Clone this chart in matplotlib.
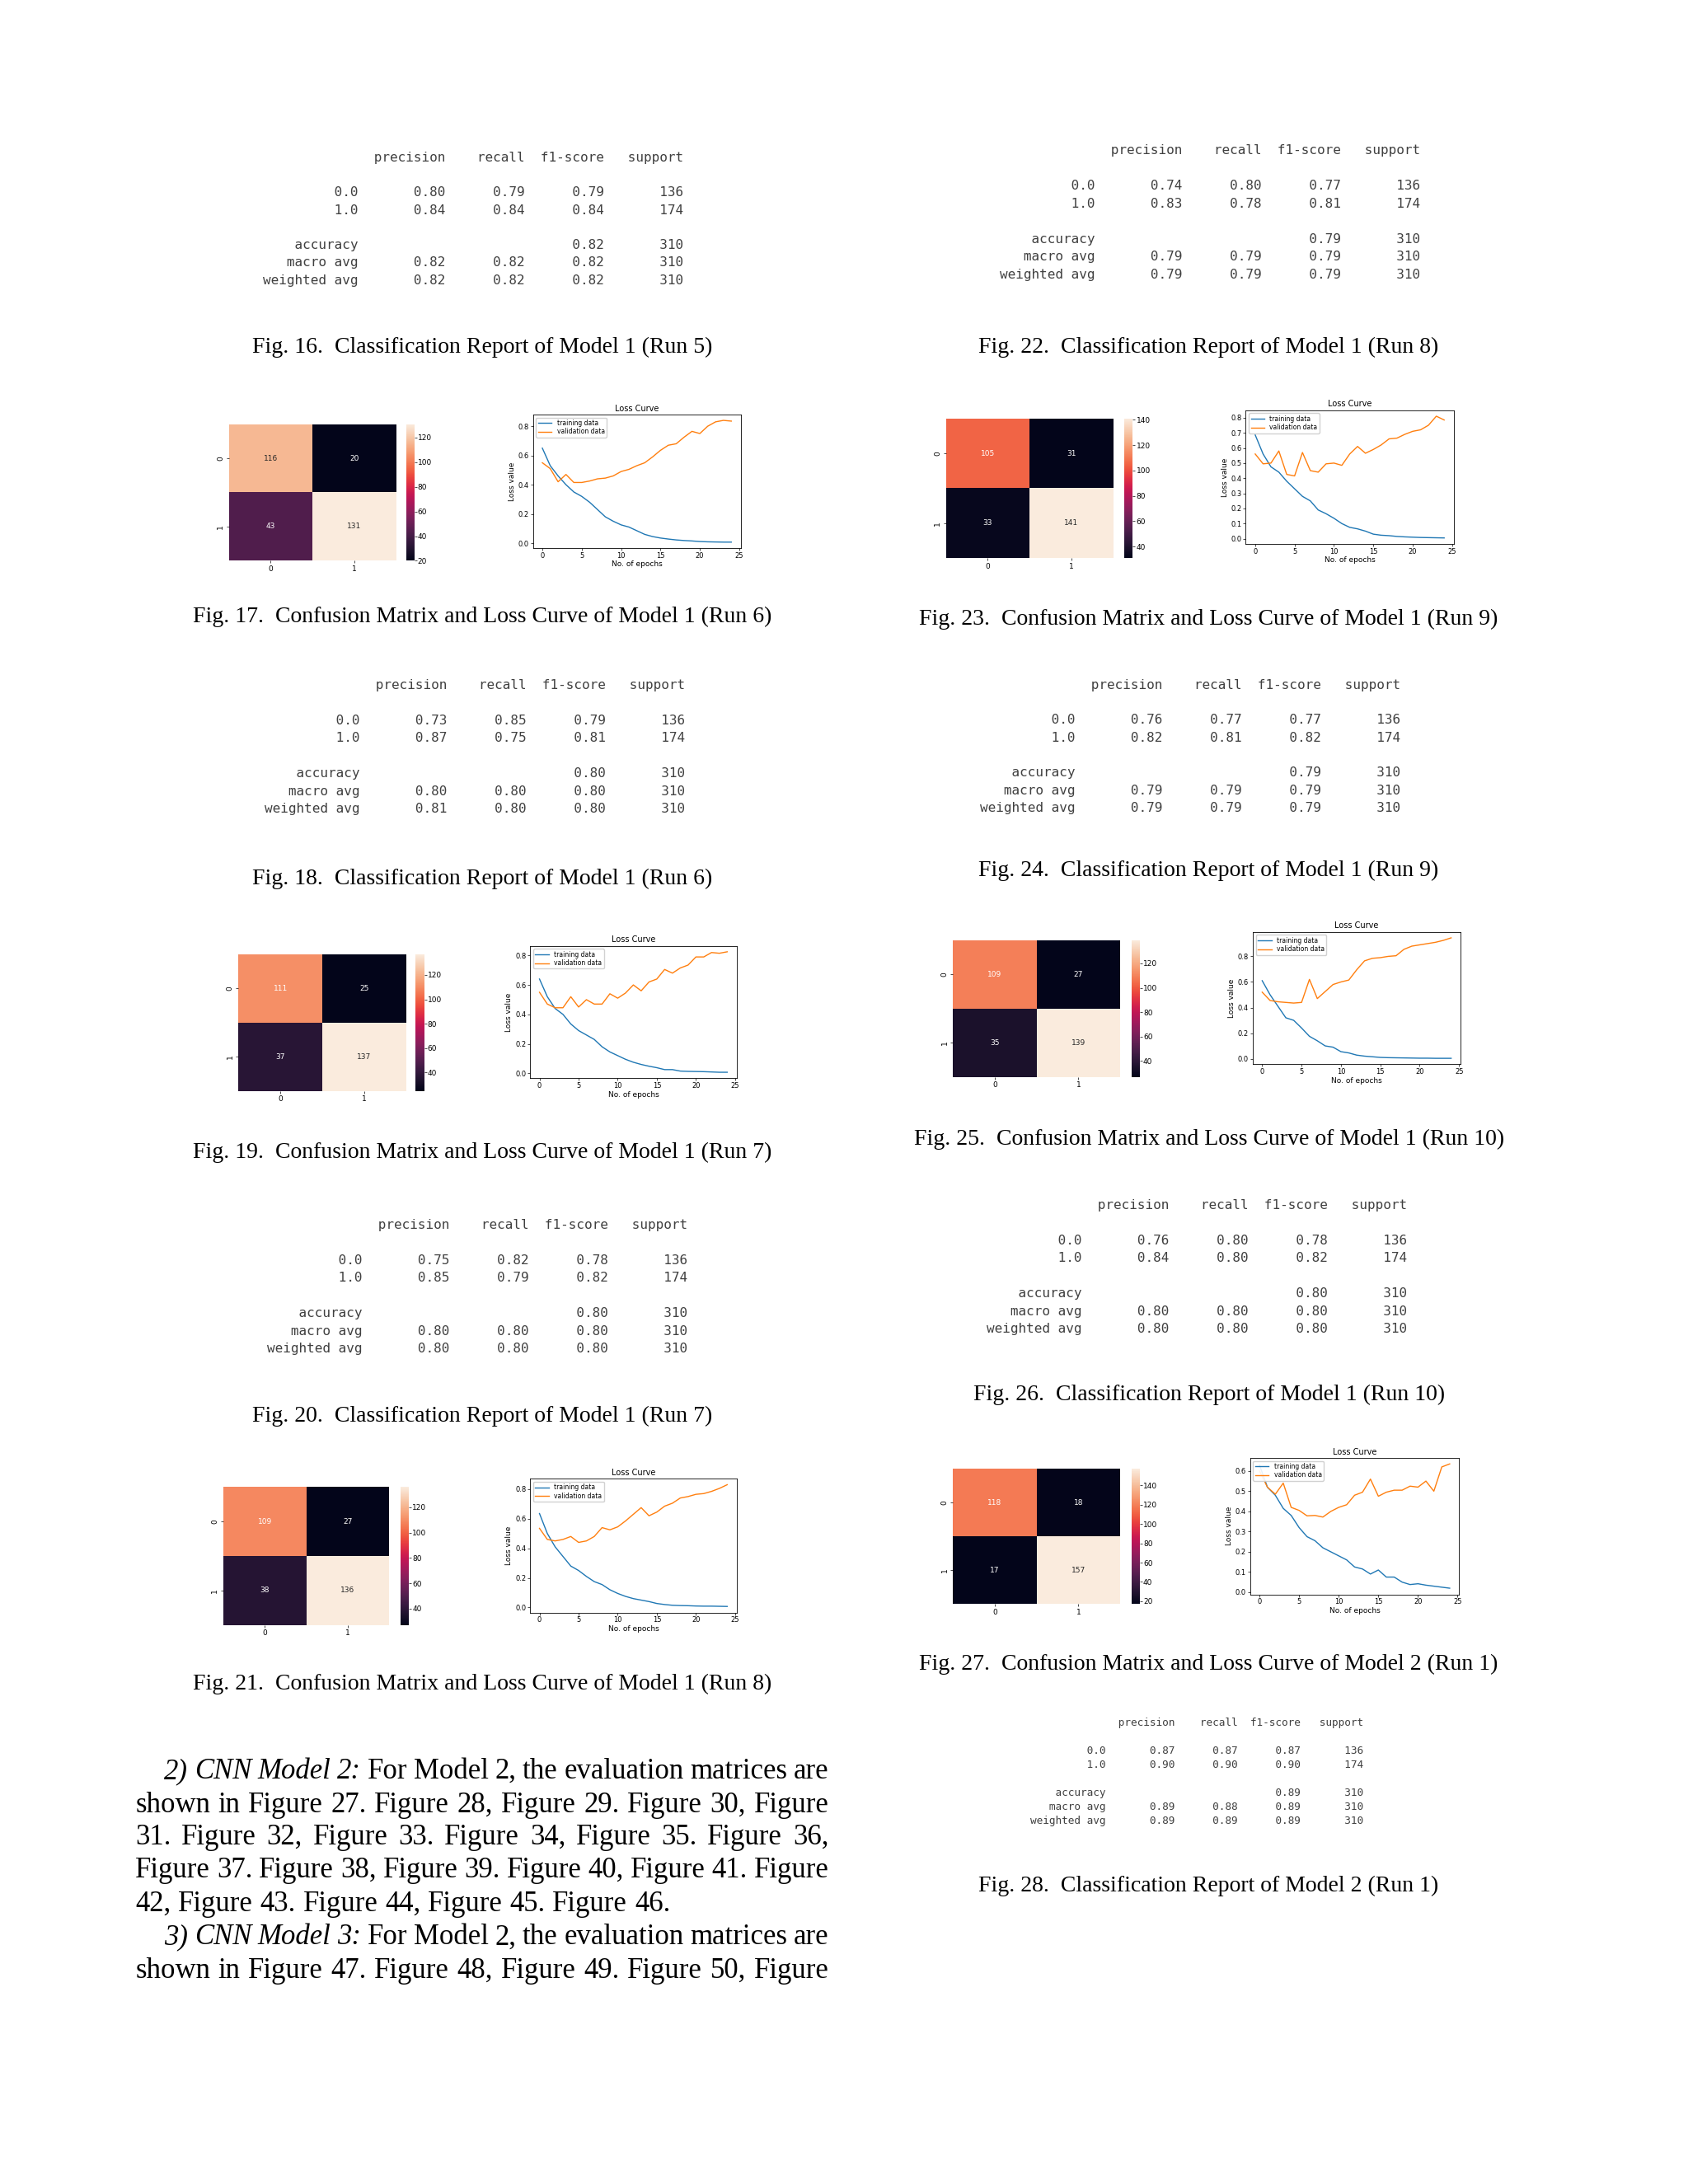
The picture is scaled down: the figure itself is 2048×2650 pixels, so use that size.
import numpy as np
import matplotlib.pyplot as plt
import seaborn as sns

# ---- data ----
support = [136, 174, 310]

# classification reports: [class 0.0, class 1.0, macro avg, weighted avg]
r16_prec = [0.80, 0.84, 0.82, 0.82]
r16_rec = [0.79, 0.84, 0.82, 0.82]
r16_f1 = [0.79, 0.84, 0.82, 0.82]
r16_acc = 0.82

r18_prec = [0.73, 0.87, 0.80, 0.81]
r18_rec = [0.85, 0.75, 0.80, 0.80]
r18_f1 = [0.79, 0.81, 0.80, 0.80]
r18_acc = 0.80

r20_prec = [0.75, 0.85, 0.80, 0.80]
r20_rec = [0.82, 0.79, 0.80, 0.80]
r20_f1 = [0.78, 0.82, 0.80, 0.80]
r20_acc = 0.80

r22_prec = [0.74, 0.83, 0.79, 0.79]
r22_rec = [0.80, 0.78, 0.79, 0.79]
r22_f1 = [0.77, 0.81, 0.79, 0.79]
r22_acc = 0.79

r24_prec = [0.76, 0.82, 0.79, 0.79]
r24_rec = [0.77, 0.81, 0.79, 0.79]
r24_f1 = [0.77, 0.82, 0.79, 0.79]
r24_acc = 0.79

r26_prec = [0.76, 0.84, 0.80, 0.80]
r26_rec = [0.80, 0.80, 0.80, 0.80]
r26_f1 = [0.78, 0.82, 0.80, 0.80]
r26_acc = 0.80

r28_prec = [0.87, 0.90, 0.89, 0.89]
r28_rec = [0.87, 0.90, 0.88, 0.89]
r28_f1 = [0.87, 0.90, 0.89, 0.89]
r28_acc = 0.89

# confusion matrices
cm17 = [[116, 20], [43, 131]]
cm19 = [[111, 25], [37, 137]]
cm21 = [[109, 27], [38, 136]]
cm23 = [[105, 31], [33, 141]]
cm25 = [[109, 27], [35, 139]]
cm27 = [[118, 18], [17, 157]]

# loss curves (25 epochs)
loss17_train = [0.65, 0.53, 0.46, 0.40, 0.35, 0.32, 0.28, 0.23, 0.18, 0.15, 0.125, 0.11, 0.085,
                0.06, 0.045, 0.035, 0.028, 0.022, 0.018, 0.015, 0.011, 0.009, 0.008, 0.007, 0.007]
loss17_val = [0.55, 0.51, 0.42, 0.47, 0.415, 0.415, 0.425, 0.44, 0.445, 0.46, 0.49, 0.505, 0.53,
              0.55, 0.59, 0.635, 0.67, 0.68, 0.725, 0.765, 0.75, 0.80, 0.83, 0.84, 0.835]
loss19_train = [0.64, 0.52, 0.44, 0.40, 0.335, 0.29, 0.26, 0.23, 0.18, 0.145, 0.12, 0.095, 0.075,
                0.06, 0.048, 0.038, 0.025, 0.025, 0.015, 0.013, 0.012, 0.011, 0.009, 0.007, 0.007]
loss19_val = [0.55, 0.47, 0.445, 0.445, 0.52, 0.45, 0.50, 0.47, 0.47, 0.54, 0.51, 0.545, 0.60,
              0.56, 0.62, 0.64, 0.705, 0.68, 0.715, 0.735, 0.79, 0.79, 0.82, 0.815, 0.825]
loss21_train = [0.635, 0.50, 0.41, 0.345, 0.28, 0.25, 0.21, 0.175, 0.155, 0.12, 0.095, 0.075, 0.06,
                0.05, 0.04, 0.027, 0.02, 0.015, 0.013, 0.012, 0.01, 0.009, 0.009, 0.008, 0.007]
loss21_val = [0.535, 0.46, 0.45, 0.46, 0.48, 0.44, 0.45, 0.48, 0.54, 0.525, 0.545, 0.585, 0.63,
              0.675, 0.62, 0.645, 0.685, 0.705, 0.74, 0.75, 0.765, 0.77, 0.785, 0.805, 0.83]
loss23_train = [0.686, 0.56, 0.475, 0.44, 0.38, 0.33, 0.28, 0.25, 0.19, 0.165, 0.135, 0.10, 0.075,
                0.065, 0.05, 0.03, 0.023, 0.02, 0.015, 0.012, 0.01, 0.008, 0.007, 0.006, 0.005]
loss23_val = [0.56, 0.495, 0.50, 0.58, 0.425, 0.415, 0.57, 0.45, 0.44, 0.495, 0.50, 0.485, 0.56,
              0.61, 0.565, 0.59, 0.62, 0.66, 0.665, 0.69, 0.71, 0.72, 0.75, 0.81, 0.785]
loss25_train = [0.61, 0.50, 0.41, 0.32, 0.30, 0.24, 0.175, 0.14, 0.10, 0.09, 0.055, 0.045, 0.028,
                0.02, 0.015, 0.01, 0.008, 0.007, 0.006, 0.005, 0.004, 0.004, 0.003, 0.003, 0.003]
loss25_val = [0.52, 0.455, 0.445, 0.44, 0.435, 0.44, 0.62, 0.47, 0.525, 0.58, 0.60, 0.615, 0.695,
              0.765, 0.785, 0.79, 0.80, 0.805, 0.855, 0.88, 0.89, 0.90, 0.91, 0.925, 0.945]
loss27_train = [0.63, 0.52, 0.48, 0.415, 0.38, 0.32, 0.275, 0.255, 0.22, 0.20, 0.18, 0.16, 0.125,
                0.115, 0.09, 0.11, 0.075, 0.075, 0.05, 0.038, 0.042, 0.035, 0.03, 0.025, 0.02]
loss27_val = [0.60, 0.52, 0.485, 0.54, 0.42, 0.405, 0.378, 0.38, 0.372, 0.40, 0.42, 0.433, 0.48,
              0.495, 0.56, 0.475, 0.495, 0.505, 0.505, 0.525, 0.52, 0.55, 0.50, 0.62, 0.635]

body_lines = [
    "2) CNN Model 2: For Model 2, the evaluation matrices are",
    "shown in Figure 27. Figure 28, Figure 29. Figure 30, Figure",
    "31. Figure 32, Figure 33. Figure 34, Figure 35. Figure 36,",
    "Figure 37. Figure 38, Figure 39. Figure 40, Figure 41. Figure",
    "42, Figure 43. Figure 44, Figure 45. Figure 46.",
    "3) CNN Model 3: For Model 2, the evaluation matrices are",
    "shown in Figure 47. Figure 48, Figure 49. Figure 50, Figure",
]

# ---- page setup ----
W, H = 2048, 2650
SC = 2048 / 1210  # positions below are measured on a 1210 px wide view

fig = plt.figure(figsize=(W / 100, H / 100), dpi=100)
fig.patch.set_facecolor("white")


def fx(x):
    return x * SC / W


def fy(y):
    return 1 - y * SC / H


def rect(x0, y0, x1, y1):
    return [fx(x0), fy(y1), (x1 - x0) * SC / W, (y1 - y0) * SC / H]


def report_lines(prec, rec, f1, acc):
    w = 12
    head = "{:>{w}s} ".format("", w=w) + "".join(
        " {:>9}".format(h) for h in ["precision", "recall", "f1-score", "support"])
    rows = [head, ""]
    for i, lab in enumerate(["0.0", "1.0"]):
        rows.append("{:>{w}s} ".format(lab, w=w) +
                    " {:>9.2f} {:>9.2f} {:>9.2f} {:>9}".format(prec[i], rec[i], f1[i], support[i]))
    rows.append("")
    rows.append("{:>{w}s} ".format("accuracy", w=w) +
                " {:>9} {:>9} {:>9.2f} {:>9}".format("", "", acc, support[2]))
    for i, lab in [(2, "macro avg"), (3, "weighted avg")]:
        rows.append("{:>{w}s} ".format(lab, w=w) +
                    " {:>9.2f} {:>9.2f} {:>9.2f} {:>9}".format(prec[i], rec[i], f1[i], support[2]))
    return rows


def draw_report(x, y, lh, fs, prec, rec, f1, acc):
    for i, line in enumerate(report_lines(prec, rec, f1, acc)):
        if line:
            fig.text(fx(x), fy(y + i * lh), line, family="DejaVu Sans Mono", fontsize=fs,
                     color="#404040", ha="left", va="center")


def draw_cm(cm, hm_box, cb_box):
    ax = fig.add_axes(rect(*hm_box))
    cax = fig.add_axes(rect(*cb_box))
    sns.heatmap(np.array(cm), annot=True, fmt="d", ax=ax, cbar_ax=cax,
                annot_kws={"size": 6.5})
    ax.set_yticklabels(["0", "1"], rotation=90, va="center")
    ax.tick_params(labelsize=6.5, length=2, width=0.5, pad=2)
    cax.tick_params(labelsize=6.5, length=2, width=0.5, pad=1)


def draw_loss(train, val, box, yticks):
    ax = fig.add_axes(rect(*box))
    ax.plot(train, label="training data", lw=1.0)
    ax.plot(val, label="validation data", lw=1.0)
    ax.set_title("Loss Curve", fontsize=7, pad=3)
    ax.set_xlabel("No. of epochs", fontsize=6.5, labelpad=1)
    ax.set_ylabel("Loss value", fontsize=6.5, labelpad=2)
    ax.set_xticks([0, 5, 10, 15, 20, 25])
    ax.set_yticks(yticks)
    ax.set_yticklabels(["%.1f" % t for t in yticks])
    ax.tick_params(labelsize=6, length=2, width=0.5, pad=1.5)
    for s in ax.spines.values():
        s.set_linewidth(0.6)
    ax.legend(loc="upper left", fontsize=5.5, handlelength=2.2, borderpad=0.3,
              labelspacing=0.2, framealpha=0.9)


def caption(xc, y, num, text):
    fig.text(fx(xc), fy(y), "Fig. %d.  %s" % (num, text), family="Liberation Serif",
             fontsize=20, ha="center", va="center", color="black")


# ---- left column ----
draw_report(188.5, 113, 12.57, 11.5, r16_prec, r16_rec, r16_f1, r16_acc)
caption(345.5, 249, 16, "Classification Report of Model 1 (Run 5)")

draw_cm(cm17, (164, 304, 284, 402), (291, 304, 297, 402))
draw_loss(loss17_train, loss17_val, (382, 297, 531, 393), [0.0, 0.2, 0.4, 0.6, 0.8])
caption(345.5, 442, 17, "Confusion Matrix and Loss Curve of Model 1 (Run 6)")

draw_report(189.5, 491, 12.7, 11.5, r18_prec, r18_rec, r18_f1, r18_acc)
caption(345.5, 630, 18, "Classification Report of Model 1 (Run 6)")

draw_cm(cm19, (171, 684, 291, 782), (298, 684, 304, 782))
draw_loss(loss19_train, loss19_val, (380, 678, 528, 773), [0.0, 0.2, 0.4, 0.6, 0.8])
caption(345.5, 826, 19, "Confusion Matrix and Loss Curve of Model 1 (Run 7)")

draw_report(191.5, 878, 12.7, 11.5, r20_prec, r20_rec, r20_f1, r20_acc)
caption(345.5, 1015, 20, "Classification Report of Model 1 (Run 7)")

draw_cm(cm21, (160, 1066, 279, 1165), (287, 1066, 293, 1165))
draw_loss(loss21_train, loss21_val, (380, 1060, 528, 1156), [0.0, 0.2, 0.4, 0.6, 0.8])
caption(345.5, 1207, 21, "Confusion Matrix and Loss Curve of Model 1 (Run 8)")

# ---- right column ----
draw_report(716.5, 108, 12.7, 11.5, r22_prec, r22_rec, r22_f1, r22_acc)
caption(866.5, 249, 22, "Classification Report of Model 1 (Run 8)")

draw_cm(cm23, (678, 300, 798, 400), (806, 300, 812, 400))
draw_loss(loss23_train, loss23_val, (893, 294, 1042, 390),
          [0.0, 0.1, 0.2, 0.3, 0.4, 0.5, 0.6, 0.7, 0.8])
caption(866.5, 444, 23, "Confusion Matrix and Loss Curve of Model 1 (Run 9)")

draw_report(702.5, 491, 12.6, 11.5, r24_prec, r24_rec, r24_f1, r24_acc)
caption(866.5, 624, 24, "Classification Report of Model 1 (Run 9)")

draw_cm(cm25, (683, 674, 803, 772), (811, 674, 817, 772))
draw_loss(loss25_train, loss25_val, (898, 668, 1047, 763), [0.0, 0.2, 0.4, 0.6, 0.8])
caption(866.5, 817, 25, "Confusion Matrix and Loss Curve of Model 1 (Run 10)")

draw_report(707.5, 864, 12.7, 11.5, r26_prec, r26_rec, r26_f1, r26_acc)
caption(866.5, 1000, 26, "Classification Report of Model 1 (Run 10)")

draw_cm(cm27, (683, 1053, 803, 1150), (811, 1053, 817, 1150))
draw_loss(loss27_train, loss27_val, (896, 1045, 1046, 1143),
          [0.0, 0.1, 0.2, 0.3, 0.4, 0.5, 0.6])
caption(866.5, 1193, 27, "Confusion Matrix and Loss Curve of Model 2 (Run 1)")

draw_report(738.5, 1235, 10.1, 9.2, r28_prec, r28_rec, r28_f1, r28_acc)
caption(866.5, 1352, 28, "Classification Report of Model 2 (Run 1)")

# ---- body text, justified by hand ----
BODY_L, BODY_R = 97 * SC, 594 * SC
BODY_FS = 25
renderer = fig.canvas.get_renderer()
body_y = [1270, 1294, 1317, 1341, 1365, 1389, 1413]
for i, line in enumerate(body_lines):
    words = line.split(" ")
    italic_n = 4 if i in (0, 5) else 0
    indent = 35 if i in (0, 5) else 0
    justify = i != 4
    ts = []
    for k, wd in enumerate(words):
        ts.append(fig.text(0, fy(body_y[i]), wd, family="Liberation Serif", fontsize=BODY_FS,
                           style="italic" if k < italic_n else "normal", va="center", ha="left"))
    widths = [t.get_window_extent(renderer).width for t in ts]
    x0 = BODY_L + indent
    if justify:
        gap = (BODY_R - x0 - sum(widths)) / (len(ts) - 1)
    else:
        gap = 0.25 * BODY_FS * 100 / 72
    x = x0
    for t, wdt in zip(ts, widths):
        t.set_x(x / W)
        x += wdt + gap

fig.savefig("out.png", dpi=100, facecolor="white")
